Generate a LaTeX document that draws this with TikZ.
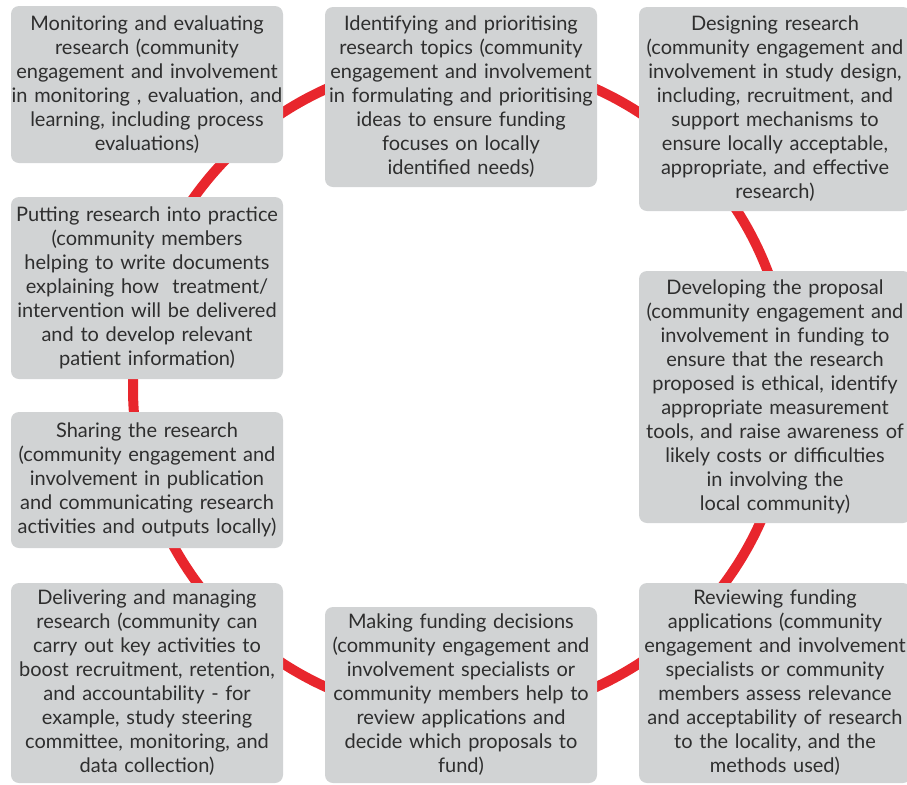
\documentclass[tikz,border=0pt]{standalone}
\usepackage{fontspec}
\setmainfont{Lato}
\usepackage{xcolor}
\usepackage{tikz}
\usetikzlibrary{positioning}

\definecolor{boxgrey}{HTML}{D1D3D4}
\definecolor{ringred}{HTML}{E8262D}
\definecolor{textgrey}{HTML}{2E2E2E}

\begin{document}
\begin{tikzpicture}[
    x=0.5pt, y=-0.5pt,
    stage/.style={rectangle, rounded corners=4pt, fill=boxgrey, text=textgrey,
      text width=136pt, align=center, inner xsep=0pt, inner ysep=0pt,
      minimum width=136pt, font=\fontsize{10}{12}\selectfont},
    ring/.style={draw=ringred, line width=5pt}
  ]
    \useasboundingbox (0,0) rectangle (907,784);
    \coordinate (hub) at (461,388);
    \draw[ring] (hub) circle[radius=164pt];

    \node[stage, minimum height=78.5pt] (monitor) at (147,84.5) {Monitoring and evaluating\\research (community\\engagement and involvement\\in monitoring , evaluation, and\\learning, including process\\evaluations)};
    \node[stage, minimum height=90pt] (identify) at (461,97) {Identifying and prioritising\\research topics (community\\engagement and involvement\\in formulating and prioritising\\ideas to ensure funding\\focuses on locally\\identified needs)};
    \node[stage, minimum height=102pt] (design) at (775,109) {Designing research\\(community engagement and\\involvement in study design,\\including, recruitment, and\\support mechanisms to\\ensure locally acceptable,\\appropriate, and effective\\research)};
    \node[stage, minimum height=91pt] (practice) at (147,288) {Putting research into practice\\(community members\\helping to write documents\\explaining how\ \ treatment/\\intervention will be delivered\\and to develop relevant\\patient information)};
    \node[stage, minimum height=126pt] (proposal) at (775,397) {Developing the proposal\\(community engagement and\\involvement in funding to\\ensure that the research\\proposed is ethical, identify\\appropriate measurement\\tools, and raise awareness of\\likely costs or difficulties\\in involving the\\local community)};
    \node[stage, minimum height=68pt] (share) at (147,480) {Sharing the research\\(community engagement and\\involvement in publication\\and communicating research\\activities and outputs locally)};
    \node[stage, minimum height=100pt] (deliver) at (147,683) {Delivering and managing\\research (community can\\carry out key activities to\\boost recruitment, retention,\\and accountability - for\\example, study steering\\committee, monitoring, and\\data collection)};
    \node[stage, minimum height=88pt] (decide) at (461,695) {Making funding decisions\\(community engagement and\\involvement specialists or\\community members help to\\review applications and\\decide which proposals to\\fund)};
    \node[stage, minimum height=100pt] (review) at (775,683) {Reviewing funding\\applications (community\\engagement and involvement\\specialists or community\\members assess relevance\\and acceptability of research\\to the locality, and the\\methods used)};
\end{tikzpicture}
\end{document}
